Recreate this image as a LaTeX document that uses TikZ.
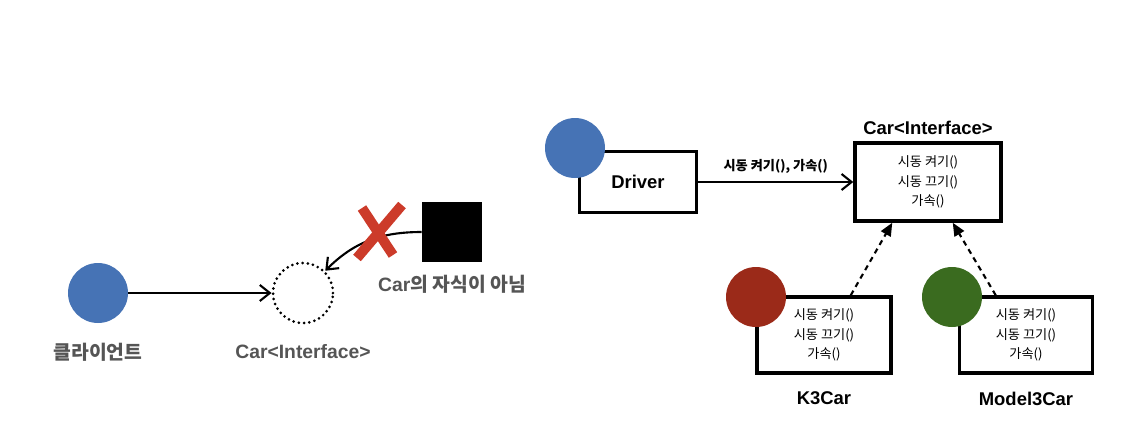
\documentclass[tikz,border=0pt]{standalone}
\usepackage{fontspec}
\setmainfont{Liberation Sans}
\newfontfamily\kr{Noto Sans CJK KR}
\usetikzlibrary{arrows.meta,positioning}
\definecolor{actorBlue}{HTML}{4673B5}
\definecolor{kThreeRed}{HTML}{9B2A19}
\definecolor{modelGreen}{HTML}{3A6B1F}
\definecolor{crossRed}{HTML}{CC3B2A}
\definecolor{labelGray}{HTML}{555555}

\begin{document}
\begin{tikzpicture}[x=0.02cm,y=-0.02cm,
  actor/.style={circle,minimum size=1.2cm,inner sep=0pt},
  classbox/.style={draw,line width=2pt,inner sep=0pt,align=center},
  methods/.style={font=\kr\fontsize{7.5}{11}\selectfont},
  grayname/.style={text=labelGray,font=\bfseries\fontsize{11}{13}\selectfont},
  boxname/.style={font=\bfseries\fontsize{10.5}{12}\selectfont},
  call/.style={line width=1.2pt,-{Straight Barb[length=2mm,width=3.2mm]}},
  realize/.style={line width=1.2pt,dash pattern=on 3pt off 2.5pt,
                  -{Triangle[length=2.6mm,width=2.2mm]}}]
  \useasboundingbox (0,0) rectangle (1143,437);

  % left: client depends on an empty interface
  \node[actor,fill=actorBlue] (client) at (98,293) {};
  \node[actor,draw,line width=1.7pt,line cap=round,
        dash pattern=on 0pt off 3pt] (emptycar) at (303,293) {};
  \node[fill=black,minimum size=1.2cm,inner sep=0pt] (stranger) at (452,232) {};
  \node[grayname,below=0.27cm of client] (clientname) {\kr 클라이언트};
  \node[grayname,below=0.27cm of emptycar] (emptyname) {Car<Interface>};
  \node[grayname,below=0.13cm of stranger] (strangername) {Car{\kr 의 자식이 아님}};
  \draw[call] (client) -- (emptycar);
  \draw[call] (stranger.west) to[out=180,in=45] (emptycar.north east);
  \draw[crossRed,line width=0.2cm] (362,208) -- (393,255)
                                   (402,205) -- (357,258);

  % right: driver and the cars
  \node[classbox,minimum width=2.34cm,minimum height=1.22cm,boxname]
        (driver) at (638,182) {Driver};
  \node[classbox,minimum width=2.92cm,minimum height=1.56cm,methods]
        (carbox) at (928,182) {시동 켜기()\\시동 끄기()\\가속()};
  \node[boxname,above=0pt of carbox] (cartitle) {Car<Interface>};
  \node[classbox,minimum width=2.68cm,minimum height=1.52cm,methods]
        (k3box) at (824,335) {시동 켜기()\\시동 끄기()\\가속()};
  \node[classbox,minimum width=2.66cm,minimum height=1.52cm,methods]
        (m3box) at (1026,335) {시동 켜기()\\시동 끄기()\\가속()};
  \node[boxname,below=0.22cm of k3box] (k3name) {K3Car};
  \node[boxname,below=0.22cm of m3box] (m3name) {Model3Car};

  \node[actor,fill=actorBlue] (driverdot) at (575,148) {};
  \node[actor,fill=kThreeRed] (k3dot) at (756,297) {};
  \node[actor,fill=modelGreen] (m3dot) at (952,297) {};

  \draw[call] (driver) -- node[above=1pt,font=\kr\bfseries\fontsize{7.5}{9}\selectfont]
        {시동 켜기(), 가속()} (carbox);
  \draw[realize] ([xshift=-0.84cm]k3box.north east) -- ([xshift=0.78cm]carbox.south west);
  \draw[realize] ([xshift=0.76cm]m3box.north west) -- ([xshift=-1.0cm]carbox.south east);
\end{tikzpicture}
\end{document}
